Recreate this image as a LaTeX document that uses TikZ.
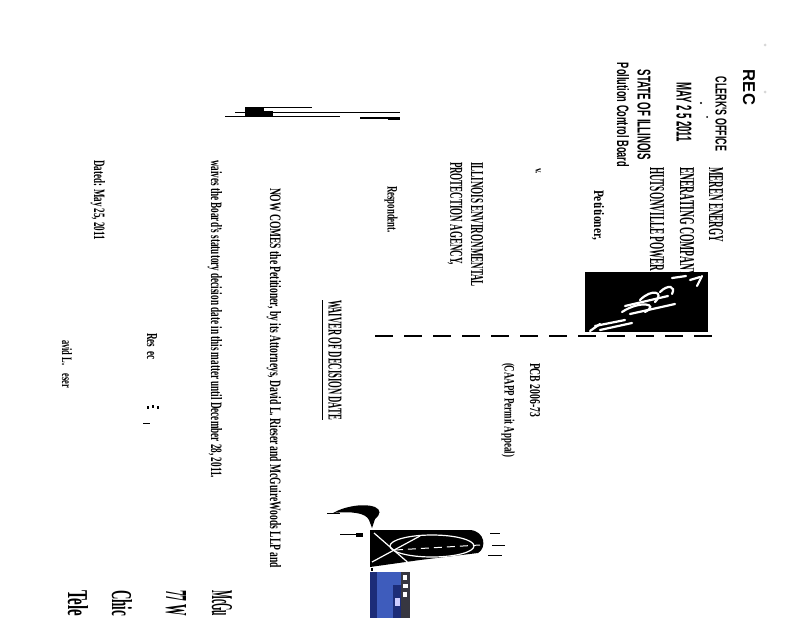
\documentclass[tikz,border=0pt]{standalone}
\usepackage{fontspec}
\usepackage{graphicx}
\setmainfont{Liberation Serif}
\newfontfamily\stampf{Liberation Sans}
\newcommand\ftx[3]{\resizebox{#1pt}{#2pt}{#3}}
\definecolor{photoblue}{RGB}{62,92,188}
\definecolor{photodark}{RGB}{28,44,120}
\definecolor{stripgray}{RGB}{55,55,65}
\definecolor{smudge}{RGB}{215,215,215}
\tikzset{
  txt/.style={rotate=-90, anchor=west, inner sep=0pt, outer sep=0pt, text=black, font=\bfseries},
  stamptxt/.style={txt, font=\stampf\bfseries},
  scanline/.style={draw=black, line cap=butt},
  whitestroke/.style={draw=white, line width=2.2pt, line cap=round},
}
\begin{document}
\begin{tikzpicture}[x=1pt,y=-1pt]
\fill[white] (0,0) rectangle (800,618);
\useasboundingbox (0,0) rectangle (800,618);

% ---- received stamp ----
\node[stamptxt] (rec) at (749,70) {\ftx{35}{12}{REC}};
\node[stamptxt] (clerk) at (721,77) {\ftx{74}{11}{CLERK'S OFFICE}};
\node[stamptxt] (maydate) at (684,82) {\ftx{60}{15}{MAY 2 5 2011}};
\node[stamptxt] (state) at (644,70) {\ftx{90}{13}{STATE OF ILLINOIS}};
\node[stamptxt] (pcbname) at (623,63) {\ftx{104}{12}{Pollution Control Board}};
\fill (701,103) circle (1.2pt);
\fill (707,117) circle (1pt);
\fill[smudge] (765,45) circle (1.5pt);
\fill[smudge] (765,92) circle (1.5pt);

% ---- caption ----
\node[txt] (ameren) at (716,167) {\ftx{75}{14}{MEREN ENERGY}};
\node[txt] (generating) at (687,167) {\ftx{110}{14}{ENERATING COMPANY}};
\node[txt] (hutson) at (657,167) {\ftx{112}{14}{HUTSONVILLE POWER S}};
\node[txt] (petr) at (598,190) {\ftx{50}{10}{Petitioner,}};
\node[txt] (vs) at (538,168) {\ftx{6}{5}{v.}};
\node[txt] (iepa1) at (477,162) {\ftx{125}{12}{ILLINOIS ENVIRONMENTAL}};
\node[txt] (iepa2) at (455,162) {\ftx{103}{12}{PROTECTION AGENCY,}};
\node[txt] (resp) at (391,186) {\ftx{47}{10}{Respondent.}};

% black stamp box
\fill (585,272) rectangle (708,332);
\begin{scope}
\clip (585,272) rectangle (708,332);
\draw[whitestroke] (672,278) -- (686,276);
\draw[whitestroke] (690,280) -- (700,277);
\draw[whitestroke] (702,276) -- (697,286);
\draw[whitestroke] (660,292) .. controls (668,284) and (676,286) .. (672,294);
\draw[whitestroke] (640,300) .. controls (652,288) and (665,292) .. (655,302);
\draw[whitestroke] (625,306) -- (668,296);
\draw[whitestroke] (622,312) .. controls (640,300) and (660,304) .. (645,312);
\draw[whitestroke] (630,314) -- (675,304);
\draw[whitestroke] (595,326) -- (625,320);
\draw[whitestroke] (600,330) -- (632,323);
\draw[whitestroke] (590,331) -- (600,324);
\end{scope}

% dashed caption bar
\draw[line width=1.1pt, dash pattern=on 18pt off 11pt] (375,336) -- (720,336);

\node[txt] (pcbno) at (535,363) {\ftx{54}{10}{PCB 2006-73}};
\node[txt] (caapp) at (508,363) {\ftx{94}{10}{(CAAPP Permit Appeal)}};

% ---- body ----
\node[txt] (waiver) at (335,300) {\ftx{120}{13}{WAIVER OF DECISION DATE}};
\draw[line width=1.6pt] ([xshift=-6pt]waiver.south west) -- ([xshift=-6pt]waiver.south east);
\node[txt] (nowcomes) at (274,188) {\ftx{380}{11}{NOW COMES the Petitioner, by its Attorneys, David L. Rieser and McGuireWoods LLP and}};
\node[txt] (waives) at (215,160) {\ftx{318}{11}{waives the Board's statutory decision date in this matter until December 28, 2011.}};
\node[txt] (dated) at (98,160) {\ftx{80}{11}{Dated: May 25, 2011}};
\node[txt] (resp2) at (152,333) {\ftx{27}{10}{Res \ ec}};
\node[txt] (signame) at (67,340) {\ftx{48}{10}{avid L. \ \ \ eser}};
\fill (147,406) rectangle (148.5,409);
\fill (152,405) rectangle (153.5,408);
\fill (157,406) rectangle (158.5,409);
\draw[line width=1pt] (143,423.5) -- (150,423.5);

% ---- scan lines near the top ----
\fill (245,106.5) rectangle (264,110.5);
\draw[scanline, line width=1pt] (264,107.5) -- (312,107.5);
\draw[scanline, line width=1.2pt] (235,112.5) -- (400,112.5);
\fill (245,111) rectangle (273,116);
\draw[scanline, line width=1pt] (225,116) -- (340,116);
\draw[scanline, line width=1.2pt] (360,118) -- (400,118);
\fill (388,117) rectangle (400,119.5);

% ---- signature ----
\fill (333,513) .. controls (345,506) and (365,503) .. (375,507)
  .. controls (381,510) and (381,514) .. (375,519) -- (372,528) -- (369,520)
  .. controls (366,513) and (352,511) .. (333,513) -- cycle;
\draw[line width=0.8pt] (327,513) -- (340,513);
\draw[line width=0.8pt] (340,534) -- (356,534);
\fill (356,533) rectangle (363,537);
\fill (370,530) -- (470,530) .. controls (485,531) and (487,548) .. (478,553)
  -- (420,560) -- (370,567) -- cycle;
\begin{scope}
\clip (370,530) -- (470,530) .. controls (485,531) and (487,548) .. (478,553)
  -- (420,560) -- (370,567) -- cycle;
\draw[white, line width=1.2pt] (432,546) ellipse [x radius=42pt, y radius=11pt];
\draw[white, line width=1.2pt] (374,533) -- (412,566);
\draw[white, line width=1.2pt] (372,562) -- (420,536);
\draw[white, line width=1pt, dash pattern=on 8pt off 5pt] (395,550) -- (480,545);
\end{scope}
\draw[line width=1pt] (490,533) -- (500,533);
\draw[line width=1pt] (492,545) -- (505,545);
\draw[line width=1pt] (488,555) -- (502,555);
\fill (371,568) rectangle (373,571);

% blue photo fragment
\fill[photoblue] (370,572) rectangle (401,618);
\fill[photodark] (370,572) rectangle (377,618);
\fill[photodark] (393,585) rectangle (401,618);
\fill[stripgray] (401,572) rectangle (410,618);
\fill[white] (403,575) rectangle (407,580);
\fill[white] (403,584) rectangle (408,588);
\fill[white] (403,592) rectangle (407,597);
\fill[white!80!blue] (395,598) rectangle (400,606);

% ---- signature block lines, cut by the page edge ----
\node[txt] (bot1) at (222,590) {\ftx{26}{20}{McGu}};
\node[txt] (bot2) at (176,590) {\ftx{26}{20}{77 W}};
\node[txt] (bot3) at (122,590) {\ftx{26}{20}{Chic}};
\node[txt] (bot4) at (78,590) {\ftx{26}{20}{Tele}};
\end{tikzpicture}
\end{document}
